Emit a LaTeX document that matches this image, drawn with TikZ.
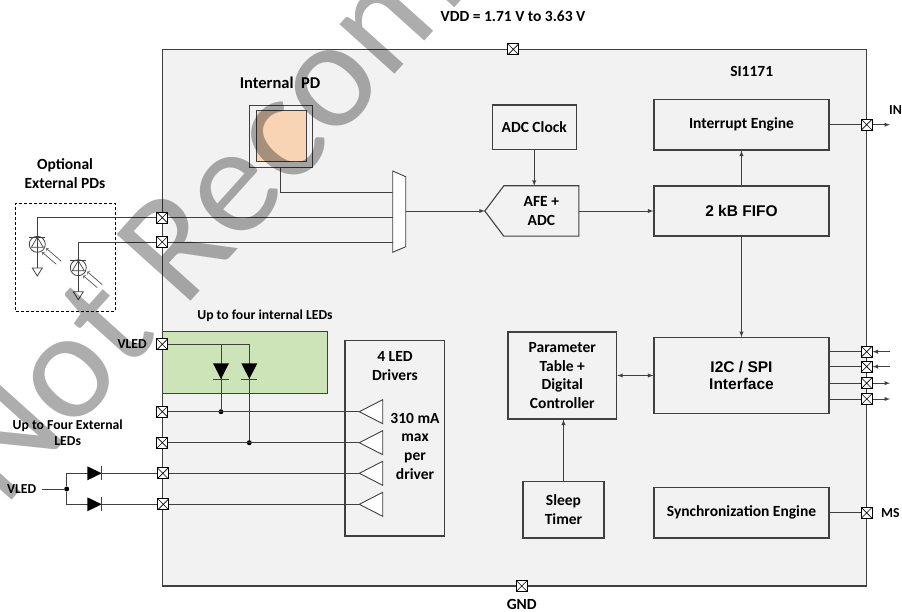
\documentclass[tikz,border=0pt]{standalone}
\usepackage{fontspec}
\setmainfont{Carlito}
\newfontfamily\arialfont{Liberation Sans}

\newcommand{\lbl}{\fontsize{15.5}{18.7}\selectfont\bfseries}
\newcommand{\lblsmall}{\fontsize{13.7}{15.7}\selectfont\bfseries}
\newcommand{\lblarial}{\arialfont\fontsize{15.5}{16.8}\selectfont\bfseries}
\newcommand{\wmark}{\fontsize{155}{160}\selectfont}

\definecolor{chipfill}{HTML}{F2F2F2}
\definecolor{pdfill}{HTML}{F8D3B4}
\definecolor{ledfill}{HTML}{CCE4B8}
\definecolor{wirec}{HTML}{404040}

\begin{document}
\begin{tikzpicture}[x=1pt, y=-1pt,
		wire/.style={draw=wirec, line width=0.9pt},
		blk/.style={draw=wirec, line width=1.1pt, align=center, inner sep=0pt, font=\lbl},
		lab/.style={font=\lbl, inner sep=0pt},
		jdot/.style={circle, fill=black, minimum size=5pt, inner sep=0pt},
		iopad/.style={draw=black, fill=white, line width=0.7pt, minimum size=11pt, inner sep=0pt,
			path picture={\draw[line width=0.6pt] (path picture bounding box.north west) -- (path picture bounding box.south east)
				(path picture bounding box.south west) -- (path picture bounding box.north east);}}]
		\useasboundingbox (0,0) rectangle (902,612);

		% chip outline
		\node[draw=wirec, line width=1.1pt, fill=chipfill, minimum width=704.4pt, minimum height=536.7pt, inner sep=0pt] (chip) at (514.5,317.65) {};
		\node[lab] (chipname) at (751.7,71.7) {SI1171};
		\node[lab] (vddlbl) at (513,16.7) {VDD = 1.71 V to 3.63 V};
		\node[lab] (gndlbl) at (521.7,604) {GND};

		% optional external photodiodes
		\node[draw=black, line width=0.8pt, dash pattern=on 3pt off 2pt, minimum width=99.3pt, minimum height=107.7pt] (extpd) at (65.35,257.15) {};
		\node[lab, align=center] (extpdlbl) at (65,173.7) {Optional\\External PDs};
		\node[circle, draw=wirec, line width=0.8pt, minimum size=16pt, inner sep=0pt] (pd1) at (37.3,244.3) {};
		\node[circle, draw=wirec, line width=0.8pt, minimum size=16pt, inner sep=0pt] (pd2) at (78.3,267.7) {};
		\coordinate (gnd1) at (37.3,268);
		\coordinate (gnd2) at (78.3,291.7);
		\draw[wire, line width=0.8pt] (pd1.north) -- (gnd1);
		\draw[wire, line width=0.8pt] (pd2.north) -- (gnd2);
		\draw[wire, line width=0.8pt] (gnd1) ++(-5,0) -- ++(10,0) -- ++(-5,8) -- cycle;
		\draw[wire, line width=0.8pt] (gnd2) ++(-5,0) -- ++(10,0) -- ++(-5,8) -- cycle;
		\draw[wire, line width=0.7pt] (pd1.center) ++(-6,3) -- ++(12,0) -- ++(-6,-10) -- cycle;
		\draw[wire, line width=0.7pt] (pd2.center) ++(-6,3) -- ++(12,0) -- ++(-6,-10) -- cycle;
		\draw[wire, line width=0.8pt] (pd1.center) ++(-8,-7) -- ++(16,0);
		\draw[wire, line width=0.8pt] (pd2.center) ++(-8,-7) -- ++(16,0);
		\draw[wire, line width=0.6pt, ->] (pd1.center) ++(24,17) -- ++(-15,-13);
		\draw[wire, line width=0.6pt, ->] (pd1.center) ++(19,20) -- ++(-14,-12);
		\draw[wire, line width=0.6pt, ->] (pd2.center) ++(24,17) -- ++(-15,-13);
		\draw[wire, line width=0.6pt, ->] (pd2.center) ++(19,20) -- ++(-14,-12);

		% internal photodiode and mux
		\node[lab, font=\fontsize{16.5}{18}\selectfont\bfseries] (pdlbl) at (280,82.7) {Internal~~PD};
		\node[draw=wirec, line width=1pt, minimum width=62.7pt, minimum height=62.3pt] (pdout) at (280.7,136.2) {};
		\node[draw=wirec, line width=1pt, fill=pdfill, minimum width=50pt, minimum height=50.7pt] (pdin) at (281,136.3) {};
		\coordinate (mux1) at (392.7,192.3);
		\coordinate (mux2) at (392.7,217.7);
		\coordinate (mux3) at (392.7,242);
		\coordinate (muxout) at (405.7,211);
		\draw[wire] (pdout.south) |- (mux1);
		\draw[wire, fill=white] (392.7,171) -- (405.7,176.7) -- (405.7,246.7) -- (392.7,252.3) -- cycle;

		% AFE, clock, FIFO, interrupt
		\node[lab, align=center, minimum width=74.7pt, minimum height=50pt] (afe) at (541.35,211) {AFE +\\ADC};
		\coordinate (afetip) at ([xshift=-19pt]afe.west);
		\draw[draw=wirec, line width=1.1pt] (afe.north west) -- (afe.north east) -- (afe.south east) -- (afe.south west) -- (afetip) -- cycle;
		\node[blk, minimum width=83.7pt, minimum height=44.3pt] (adcclk) at (534.2,127.2) {ADC Clock};
		\node[blk, font=\lblarial, minimum width=175pt, minimum height=50pt] (fifo) at (741.5,211) {2 kB FIFO};
		\node[blk, minimum width=175pt, minimum height=50.7pt] (irq) at (741.5,124.7) {Interrupt Engine};
		\node[blk, font=\lblarial, minimum width=175pt, minimum height=75.5pt] (bus) at (741.5,375.5) {I2C / SPI\\Interface};
		\node[blk, minimum width=108.7pt, minimum height=87pt] (param) at (562.3,375.5) {Parameter\\Table +\\Digital\\Controller};
		\node[blk, minimum width=81pt, minimum height=56.3pt] (sleep) at (563.5,509.8) {Sleep\\Timer};
		\node[blk, minimum width=175pt, minimum height=50.3pt] (sync) at (741.5,512.8) {Synchronization Engine};

		\draw[wire, -latex] (muxout) -- (afetip);
		\draw[wire, -latex] (adcclk.south) -- (adcclk.south |- afe.north);
		\draw[wire, -latex] (afe.east) -- (fifo.west);
		\draw[wire, -latex] (fifo.north) -- (irq.south);
		\draw[wire, -latex] (fifo.south) -- (bus.north);
		\draw[wire, latex-latex] (param.east) -- (bus.west);
		\draw[wire, -latex] (sleep.north) -- (sleep.north |- param.south);

		% LED drivers
		\node[draw=wirec, line width=1.1pt, minimum width=99.3pt, minimum height=195.3pt] (drivers) at (394.65,438.35) {};
		\node[lab, align=center] (drvlbl) at (395,366.2) {4 LED\\Drivers};
		\node[lab, align=center] (drvspec) at (415,446.2) {310 mA\\max\\per\\driver};
		\coordinate (d1) at (359.3,411.7);
		\coordinate (d2) at (359.3,442.7);
		\coordinate (d3) at (359.3,473.3);
		\coordinate (d4) at (359.3,504.3);
		\draw[wire, fill=white] (d1) -- ++(23.4,-12) -- ++(0,24) -- cycle;
		\draw[wire, fill=white] (d2) -- ++(23.4,-12) -- ++(0,24) -- cycle;
		\draw[wire, fill=white] (d3) -- ++(23.4,-12) -- ++(0,24) -- cycle;
		\draw[wire, fill=white] (d4) -- ++(23.4,-12) -- ++(0,24) -- cycle;

		% internal LEDs
		\node[draw=wirec, line width=1pt, fill=ledfill, minimum width=165pt, minimum height=62.3pt] (ledbox) at (244.8,362.15) {};
		\node[lab, font=\lblsmall] (ledboxlbl) at (265,315.7) {Up to four internal LEDs};
		\node[lab, font=\lblsmall, anchor=east] (vledlbl) at (147,344.3) {VLED};
		\node[jdot] (j1) at (221,411.7) {};
		\node[jdot] (j2) at (249.3,442.7) {};
		\coordinate (led1) at (221,363.3);
		\coordinate (led2) at (249.3,363.3);
		\coordinate (ia) at (221,344.3);

		% external LEDs
		\node[lab, font=\lblsmall, align=center] (extlbl) at (67.7,432.9) {Up to Four External\\LEDs};
		\node[lab, font=\lblsmall] (vled2lbl) at (21.7,489) {VLED};
		\node[jdot] (j3) at (66.7,489) {};
		\coordinate (led3) at (87.3,473.3);
		\coordinate (led4) at (87.3,504.3);

		% pads
		\node[iopad] (vdd) at (513.3,49.3) {};
		\node[iopad] (gnd) at (521.7,586) {};
		\node[iopad] (pint) at (866.7,124.7) {};
		\node[iopad] (pbus1) at (866.7,351.7) {};
		\node[iopad] (pbus2) at (866.7,366.6) {};
		\node[iopad] (pbus3) at (866.7,383.2) {};
		\node[iopad] (pbus4) at (866.7,399) {};
		\node[iopad] (pms) at (866.7,512.8) {};
		\node[iopad] (ppd1) at (162.3,217.7) {};
		\node[iopad] (ppd2) at (162.3,242) {};
		\node[iopad] (pvled) at (162.3,344.3) {};
		\node[iopad] (pled1) at (162.3,411.7) {};
		\node[iopad] (pled2) at (162.3,442.7) {};
		\node[iopad] (pled3) at (162.8,473.3) {};
		\node[iopad] (pled4) at (163.3,504.3) {};
		\node[lab, font=\lblsmall, anchor=west] (inlbl) at (889,110) {IN};
		\node[lab, font=\lblsmall, anchor=west] (mslbl) at (881,512.8) {MS};

		% wiring
		\draw[wire] (ppd1.east) -- (mux2);
		\draw[wire] (ppd2.east) -- (mux3);
		\draw[wire, line width=0.8pt] (ppd1.west) -| (pd1.north);
		\draw[wire, line width=0.8pt] (ppd2.west) -| (pd2.north);
		\draw[wire] (pvled.east) -| (j2);
		\draw[wire] (ia) -- (j1);
		\fill[black] (led1) ++(-8,0) -- ++(16,0) -- ++(-8,15.7) -- cycle;
		\fill[black] (led2) ++(-8,0) -- ++(16,0) -- ++(-8,15.7) -- cycle;
		\draw[wire] (led1) ++(-8,15.7) -- ++(16,0);
		\draw[wire] (led2) ++(-8,15.7) -- ++(16,0);
		\draw[wire] (pled1.east) -- (d1);
		\draw[wire] (pled2.east) -- (d2);
		\draw[wire] (pled3.east) -- (d3);
		\draw[wire] (pled4.east) -- (d4);
		\draw[wire, shorten <=5pt] (vled2lbl.east) -- (j3);
		\draw[wire] (pled3.west) -| (j3);
		\draw[wire] (pled4.west) -| (j3);
		\fill[black] (led3) ++(0,-7) -- ++(0,14) -- ++(14.4,-7) -- cycle;
		\fill[black] (led4) ++(0,-7) -- ++(0,14) -- ++(14.4,-7) -- cycle;
		\draw[wire] (led3) ++(14.4,-7) -- ++(0,14);
		\draw[wire] (led4) ++(14.4,-7) -- ++(0,14);

		\coordinate (intout) at (890,124.7);
		\coordinate (bin1) at (890,351.7);
		\coordinate (bin2) at (890,366.6);
		\coordinate (bout3) at (890,383.2);
		\coordinate (bout4) at (890,399);
		\draw[wire] (irq.east) -- (pint.west);
		\draw[wire, -latex] (pint.east) -- (intout);
		\draw[wire] (bus.east |- pbus1) -- (pbus1.west);
		\draw[wire] (bus.east |- pbus2) -- (pbus2.west);
		\draw[wire] (bus.east |- pbus3) -- (pbus3.west);
		\draw[wire] (bus.east |- pbus4) -- (pbus4.west);
		\draw[wire, -latex] (bin1) -- (pbus1.east);
		\draw[wire, -latex] (bin2) -- (pbus2.east);
		\draw[wire, -latex] (pbus3.east) -- (bout3);
		\draw[wire, -latex] (pbus4.east) -- (bout4);
		\draw[wire] (sync.east) -- (pms.west);

		% watermark
		\node[font=\wmark, text=black, opacity=0.32, rotate=48, anchor=base west, inner sep=0pt] (wm) at (4,509) {Not Recommended};
	\end{tikzpicture}
\end{document}
